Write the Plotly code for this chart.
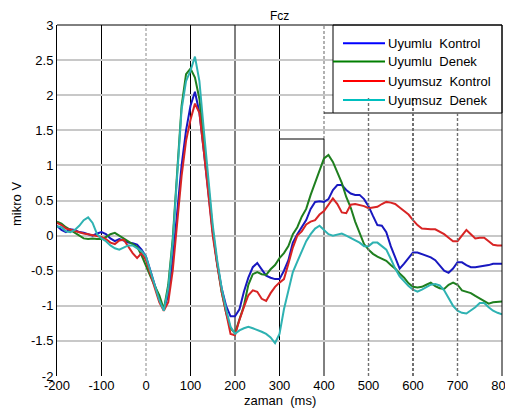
import plotly.graph_objects as go

# ---------------- data ----------------
time_ms = list(range(-200, 801, 10))

uyumlu_kontrol = [
    0.14, 0.08, 0.05, 0.09, 0.08, 0.05, 0.04, 0.02, 0.00, 0.03,
    0.05, 0.02, -0.04, -0.08, -0.05, -0.07, -0.10, -0.11, -0.13, -0.20,
    -0.30, -0.50, -0.72, -0.92, -1.05, -0.85, -0.35, 0.35, 1.00, 1.50,
    1.85, 2.05, 1.75, 1.20, 0.60, 0.05, -0.40, -0.75, -1.00, -1.15,
    -1.15, -1.05, -0.80, -0.60, -0.45, -0.39, -0.48, -0.57, -0.60, -0.62,
    -0.62, -0.50, -0.35, -0.10, 0.02, 0.12, 0.22, 0.38, 0.48, 0.49,
    0.48, 0.52, 0.65, 0.72, 0.72, 0.65, 0.60, 0.58, 0.58, 0.52,
    0.42, 0.28, 0.15, 0.14, 0.05, -0.15, -0.32, -0.47, -0.40, -0.32,
    -0.24, -0.24, -0.26, -0.28, -0.31, -0.35, -0.42, -0.50, -0.53, -0.47,
    -0.38, -0.38, -0.42, -0.45, -0.45, -0.44, -0.44, -0.42, -0.40, -0.40,
    -0.40,
]

uyumlu_denek = [
    0.20, 0.17, 0.12, 0.08, 0.05, 0.00, -0.04, -0.05, -0.04, -0.05,
    -0.05, -0.02, 0.02, 0.04, 0.00, -0.03, -0.08, -0.12, -0.16, -0.28,
    -0.44, -0.58, -0.72, -0.85, -1.05, -0.70, -0.05, 0.90, 1.85, 2.30,
    2.38, 2.25, 1.95, 1.35, 0.70, 0.08, -0.40, -0.80, -1.10, -1.32,
    -1.39, -1.20, -1.00, -0.70, -0.55, -0.52, -0.55, -0.56, -0.48, -0.42,
    -0.32, -0.25, -0.15, 0.02, 0.12, 0.27, 0.38, 0.58, 0.75, 0.95,
    1.10, 1.15, 1.05, 0.90, 0.75, 0.55, 0.40, 0.20, 0.05, -0.12,
    -0.20, -0.26, -0.30, -0.33, -0.36, -0.42, -0.47, -0.54, -0.60, -0.68,
    -0.73, -0.74, -0.73, -0.70, -0.67, -0.72, -0.75, -0.76, -0.70, -0.67,
    -0.70, -0.78, -0.80, -0.82, -0.86, -0.90, -0.94, -0.97, -0.95, -0.94,
    -0.94,
]

uyumsuz_kontrol = [
    0.18, 0.15, 0.10, 0.08, 0.06, 0.05, 0.03, 0.02, 0.01, -0.01,
    -0.02, -0.05, -0.10, -0.12, -0.07, -0.06, -0.15, -0.25, -0.32, -0.25,
    -0.35, -0.55, -0.75, -0.95, -1.07, -0.95, -0.50, 0.20, 0.85, 1.35,
    1.65, 1.88, 1.75, 1.20, 0.60, 0.00, -0.42, -0.80, -1.10, -1.40,
    -1.42, -1.20, -1.02, -0.85, -0.78, -0.80, -0.90, -0.93, -0.82, -0.73,
    -0.67, -0.62, -0.40, -0.17, 0.00, 0.06, 0.16, 0.20, 0.22, 0.30,
    0.35, 0.45, 0.53, 0.45, 0.33, 0.32, 0.44, 0.45, 0.44, 0.42,
    0.39, 0.40, 0.41, 0.45, 0.48, 0.47, 0.45, 0.40, 0.35, 0.30,
    0.22, 0.15, 0.10, 0.09, 0.09, 0.09, 0.06, 0.02, -0.03, -0.08,
    -0.08, 0.00, 0.08, 0.02, -0.04, -0.03, -0.03, -0.08, -0.13, -0.14,
    -0.14,
]

uyumsuz_denek = [
    0.13, 0.12, 0.06, 0.05, 0.08, 0.14, 0.22, 0.26, 0.18, 0.02,
    -0.04, -0.08, -0.14, -0.18, -0.20, -0.17, -0.14, -0.14, -0.18, -0.22,
    -0.30, -0.50, -0.72, -0.92, -1.07, -0.75, -0.10, 0.85, 1.80, 2.20,
    2.35, 2.55, 2.20, 1.50, 0.80, 0.15, -0.35, -0.75, -1.05, -1.30,
    -1.40, -1.35, -1.32, -1.30, -1.32, -1.34, -1.37, -1.40, -1.45, -1.53,
    -1.40, -1.05, -0.78, -0.52, -0.37, -0.22, -0.08, 0.02, 0.10, 0.14,
    0.08, 0.02, 0.00, 0.02, 0.03, 0.00, -0.03, -0.06, -0.10, -0.15,
    -0.15, -0.10, -0.10, -0.15, -0.20, -0.33, -0.47, -0.58, -0.65, -0.72,
    -0.77, -0.80, -0.77, -0.73, -0.70, -0.69, -0.71, -0.78, -0.88, -1.00,
    -1.07, -1.10, -1.11, -1.07, -1.02, -0.96, -0.96, -1.02, -1.07, -1.10,
    -1.12,
]

series_names = ["Uyumlu  Kontrol", "Uyumlu  Denek", "Uyumsuz  Kontrol", "Uyumsuz  Denek"]
series_values = [uyumlu_kontrol, uyumlu_denek, uyumsuz_kontrol, uyumsuz_denek]
line_colors = ["#1818c0", "#1f7f1f", "#d82424", "#2eb2b2"]
legend_colors = ["#0000ff", "#007f00", "#ff0000", "#00bfbf"]

x_ticks = list(range(-200, 801, 100))
x_ticktext = [str(v) for v in x_ticks]
y_ticks = [-2, -1.5, -1, -0.5, 0, 0.5, 1, 1.5, 2, 2.5, 3]
y_ticktext = ["-2", "-1.5", "-1", "-0.5", "0", "0.5", "1", "1.5", "2", "2.5", "3"]

FONT = "Liberation Sans, Arial, sans-serif"

fig = go.Figure()
for name, vals, col in zip(series_names, series_values, line_colors):
    fig.add_trace(go.Scatter(x=time_ms, y=vals, mode="lines", name=name,
                             line=dict(color=col, width=2), showlegend=False))

shapes = []
# vertical lines
for xv in [-100, 100, 200, 300]:
    shapes.append(dict(type="line", xref="x", yref="y", x0=xv, x1=xv, y0=-2, y1=3,
                       line=dict(color="black", width=1), layer="below"))
shapes.append(dict(type="line", xref="x", yref="y", x0=0, x1=0, y0=-2, y1=3,
                   line=dict(color="#888888", width=1, dash="3px,2px"), layer="below"))
shapes.append(dict(type="line", xref="x", yref="y", x0=400, x1=400, y0=1.376, y1=3,
                   line=dict(color="#888888", width=1.3, dash="3px,2px"), layer="below"))
shapes.append(dict(type="line", xref="x", yref="y", x0=400, x1=400, y0=-2, y1=1.376,
                   line=dict(color="black", width=1), layer="below"))

# legend box
lx0 = (333 - 57) / 445
ly0 = (376 - 113) / 351
shapes.append(dict(type="rect", xref="paper", yref="paper", x0=lx0, x1=1, y0=ly0, y1=1,
                   fillcolor="white", line=dict(color="black", width=1), layer="above"))
shapes.append(dict(type="line", xref="x", yref="paper", x0=400, x1=420, y0=ly0, y1=ly0,
                   line=dict(color="black", width=1), layer="above"))
shapes.append(dict(type="line", xref="x", yref="y", x0=300, x1=400, y0=1.376, y1=1.376,
                   line=dict(color="black", width=1), layer="above"))
# dashed lines to the right
for xv, ytop, w in [(500, 1.96, 1.4), (600, 1.96, 2), (700, 1.746, 1.4)]:
    shapes.append(dict(type="line", xref="x", yref="y", x0=xv, x1=xv, y0=-2, y1=ytop,
                       line=dict(color="#707070", width=w, dash="3px,2px"), layer="above"))
# borders
shapes.append(dict(type="line", xref="paper", yref="paper", x0=0, x1=1, y0=1, y1=1,
                   line=dict(color="black", width=1), layer="above"))
shapes.append(dict(type="line", xref="paper", yref="paper", x0=1, x1=1, y0=0, y1=1,
                   line=dict(color="black", width=1), layer="above"))

annotations = []
row_py = [43.3, 61.5, 81, 100]
for i, (name, col) in enumerate(zip(series_names, legend_colors)):
    yp = (376 - row_py[i]) / 351
    xs = (343 - 57) / 445 if i != 1 else lx0
    shapes.append(dict(type="line", xref="paper", yref="paper", x0=xs, x1=(385 - 57) / 445,
                       y0=yp, y1=yp, line=dict(color=col, width=2), layer="above"))
    annotations.append(dict(xref="paper", yref="paper", x=(386 - 57) / 445, y=yp,
                            text=name, showarrow=False, xanchor="left", yanchor="middle",
                            font=dict(family=FONT, size=13, color="black")))

annotations.append(dict(xref="paper", yref="paper", x=0.5, y=(376 - 400) / 351,
                        text="zaman  (ms)", showarrow=False, xanchor="center", yanchor="middle",
                        font=dict(family=FONT, size=13, color="black")))
annotations.append(dict(xref="paper", yref="paper", x=(16 - 57) / 445, y=(376 - 204) / 351,
                        text="mikro V", showarrow=False, xanchor="center", yanchor="middle",
                        textangle=-90, font=dict(family=FONT, size=13, color="black")))
annotations.append(dict(xref="paper", yref="paper", x=0.5, y=(376 - 16) / 351,
                        text="Fcz", showarrow=False, xanchor="center", yanchor="middle",
                        font=dict(family=FONT, size=12, color="black")))

# the page body adds an 8px offset, so the figure is 8px smaller and margins shifted
fig.update_layout(
    width=505, height=407,
    margin=dict(l=49, r=11, t=17, b=39, autoexpand=False),
    paper_bgcolor="white", plot_bgcolor="white",
    font=dict(family=FONT, size=13, color="black"),
    showlegend=False,
    shapes=shapes,
    annotations=annotations,
    xaxis=dict(range=[-200, 800], tickvals=x_ticks, ticktext=x_ticktext,
               showgrid=False, zeroline=False, showline=False, ticks="", automargin=False,
               tickfont=dict(family=FONT, size=13, color="black")),
    yaxis=dict(range=[-2, 3], tickvals=y_ticks, ticktext=y_ticktext,
               showgrid=True, gridcolor="#c8c8c8", gridwidth=2, automargin=False,
               zeroline=False, showline=True, linecolor="black", linewidth=1,
               ticks="", tickfont=dict(family=FONT, size=13, color="black")),
)

fig.write_html("out.html")
